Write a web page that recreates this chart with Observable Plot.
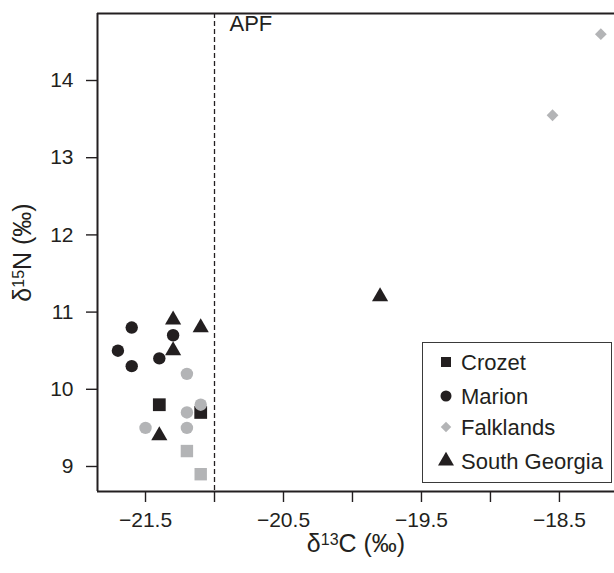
<!DOCTYPE html>
<html><head><meta charset="utf-8">
<script src="https://cdn.jsdelivr.net/npm/d3@7"></script>
<script src="https://cdn.jsdelivr.net/npm/@observablehq/plot@0.6"></script>
<style>
body{margin:0;background:#fff;}
#chart svg{display:block;}
</style></head><body><div id="chart"></div>
<script>
// δ13C (x) and δ15N (y) values
const crozetX = [-21.4, -21.1];
const crozetY = [9.8, 9.7];
const crozetGrayX = [-21.2, -21.1];
const crozetGrayY = [9.2, 8.9];
const marionX = [-21.6, -21.7, -21.6, -21.4, -21.3];
const marionY = [10.8, 10.5, 10.3, 10.4, 10.7];
const marionGrayX = [-21.2, -21.1, -21.2, -21.5, -21.2];
const marionGrayY = [10.2, 9.8, 9.7, 9.5, 9.5];
const falklandsX = [-18.2, -18.55];
const falklandsY = [14.6, 13.55];
const southGeorgiaX = [-21.3, -21.1, -21.3, -21.4, -19.8];
const southGeorgiaY = [10.9, 10.8, 10.5, 9.4, 11.2];

const xTicks = [-21.5, -21, -20.5, -20, -19.5, -19, -18.5];
const yTicks = [9, 10, 11, 12, 13, 14];
const xDomain = [-21.848, -18.101];
const yDomain = [8.676, 14.868];
const apf = [{x: -21, label: "APF"}];
const xLabel = "δ13C (‰)";
const yLabel = "δ15N (‰)";
const legendItems = ["Crozet", "Marion", "Falklands", "South Georgia"];

const ink = "#231f20", gray = "#b3b4b6";
const pts = (xs, ys) => xs.map((x, i) => ({x, y: ys[i]}));
const fmtX = d => Number.isInteger(d) ? "" : d.toFixed(1).replace("-", "\u2212");
const fmtY = d => String(d);

const chart = Plot.plot({
  width: 614, height: 573,
  marginLeft: 97, marginRight: 0, marginTop: 13, marginBottom: 82,
  style: {fontSize: "21px", fontFamily: "'Liberation Sans', Arial, sans-serif", color: ink, background: "#fff"},
  x: {domain: xDomain, ticks: xTicks, tickFormat: fmtX, tickSize: 11, tickPadding: 10, label: null},
  y: {domain: yDomain, ticks: yTicks, tickFormat: fmtY, tickSize: 11, tickPadding: 13, label: null},
  marks: [
    Plot.ruleX(apf, {x: "x", stroke: ink, strokeWidth: 1.3, strokeDasharray: "5,3"}),
    Plot.text(apf, {x: "x", text: "label", frameAnchor: "top", textAnchor: "start", lineAnchor: "top", dx: 15, dy: 2, fontSize: 22, fill: ink}),
    Plot.ruleY([yDomain[0]], {stroke: ink, strokeWidth: 2}),
    Plot.ruleY([yDomain[1]], {stroke: ink, strokeWidth: 2}),
    Plot.ruleX([xDomain[0]], {stroke: ink, strokeWidth: 2}),
    Plot.dot(pts(crozetX, crozetY), {x: "x", y: "y", symbol: "square", r: 7.2, fill: ink, stroke: "none"}),
    Plot.dot(pts(crozetGrayX, crozetGrayY), {x: "x", y: "y", symbol: "square", r: 7.0, fill: gray, stroke: "none"}),
    Plot.dot(pts(marionX, marionY), {x: "x", y: "y", symbol: "circle", r: 6.2, fill: ink, stroke: "none"}),
    Plot.dot(pts(marionGrayX, marionGrayY), {x: "x", y: "y", symbol: "circle", r: 6.2, fill: gray, stroke: "none"}),
    Plot.dot(pts(falklandsX, falklandsY), {x: "x", y: "y", symbol: "diamond2", r: 5.3, fill: gray, stroke: "none"}),
    Plot.dot(pts(southGeorgiaX, southGeorgiaY), {x: "x", y: "y", symbol: "triangle", r: 6.0, fill: ink, stroke: "none"}),
    Plot.text([xLabel], {frameAnchor: "bottom", dy: 60, fontSize: 25, fill: ink}),
    Plot.text([yLabel], {frameAnchor: "left", dx: -75, rotate: -90, fontSize: 25, fill: ink})
  ]
});
document.getElementById("chart").appendChild(chart);
const svg = d3.select(chart);

// axis tick strokes
svg.selectAll('g[aria-label*="axis tick"] path').style("stroke-width", "1.4px");

// superscripts in axis labels, re-centred after rebuilding
svg.selectAll("text").each(function() {
  const t = this.textContent;
  const m = /^δ(\d+)(.*)$/.exec(t);
  if (!m) return;
  const el = d3.select(this);
  const cx = +(el.attr("x") || 0);
  el.text(null);
  el.append("tspan").text("δ");
  el.append("tspan").attr("font-size", "16px").attr("baseline-shift", "45%").text(m[1]);
  el.append("tspan").text(m[2]);
  el.attr("text-anchor", "start").style("text-anchor", "start");
  const w = this.getBBox().width;
  el.attr("x", cx - w / 2);
});

// legend box
const lg = svg.append("g").attr("transform", "translate(422,342)")
  .attr("font-family", "'Liberation Sans', Arial, sans-serif").attr("font-size", 22)
  .attr("fill", ink).attr("text-anchor", "start");
lg.append("rect").attr("x", 0.5).attr("y", 0.5).attr("width", 189).attr("height", 140)
  .attr("fill", "#fff").attr("stroke", "#3a3a3a").attr("stroke-width", 1);
const legSym = [
  {sym: d3.symbolSquare, size: 100, fill: ink},
  {sym: d3.symbolCircle, size: 95, fill: ink},
  {sym: d3.symbolDiamond2, size: 70, fill: gray},
  {sym: d3.symbolTriangle, size: 110, fill: ink}
];
const rowY = [20, 54, 85, 119];
legendItems.forEach((name, i) => {
  lg.append("path").attr("transform", `translate(24,${rowY[i]})`)
    .attr("d", d3.symbol(legSym[i].sym, legSym[i].size)()).attr("fill", legSym[i].fill);
  lg.append("text").attr("x", 39).attr("y", rowY[i]).attr("dy", "0.35em").text(name);
});
</script>
</body></html>
